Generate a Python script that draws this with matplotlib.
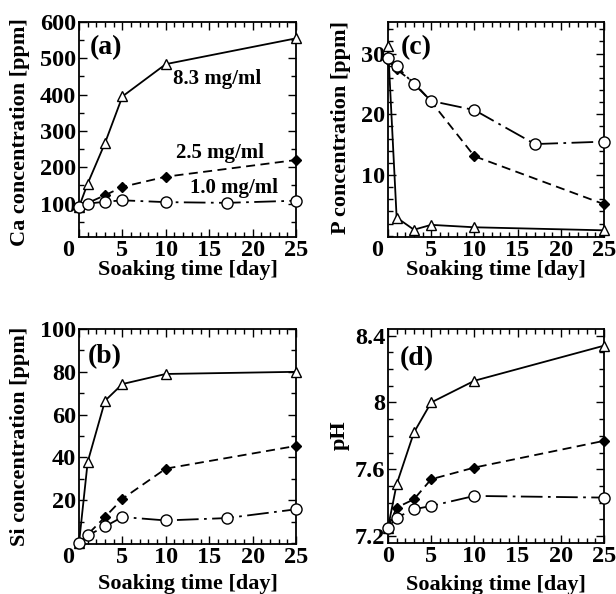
import matplotlib
matplotlib.use("Agg")
import matplotlib.pyplot as plt
import matplotlib.transforms as mtransforms
from matplotlib.ticker import FixedLocator, MultipleLocator

plt.rcParams['font.family'] = ['Liberation Serif', 'DejaVu Serif']
plt.rcParams['font.weight'] = 'bold'

# ---------------- data ----------------
# (a) Ca concentration [ppm]
ca_x_tri = [0, 1, 3, 5, 10, 25]
ca_tri = [91, 155, 267, 395, 484, 555]
ca_x_dia = [0, 3, 5, 10, 25]
ca_dia = [91, 123, 146, 174, 220]
ca_x_cir = [0, 1, 3, 5, 10, 17, 25]
ca_cir = [91, 100, 105, 109, 104, 102, 108]

# (b) Si concentration [ppm]
si_x_tri = [0, 1, 3, 5, 10, 25]
si_tri = [0, 37.9, 66.5, 74.3, 79.0, 80.0]
si_x_dia = [0, 3, 5, 10, 25]
si_dia = [0, 12.2, 20.7, 34.8, 45.4]
si_x_cir = [0, 1, 3, 5, 10, 17, 25]
si_cir = [0, 3.6, 7.8, 12.2, 10.6, 11.7, 15.8]

# (c) P concentration [ppm]
p_x_tri = [0, 1, 3, 5, 10, 25]
p_tri = [31.2, 3.0, 1.0, 1.8, 1.4, 0.9]
p_x_dia = [0, 1, 3, 5, 10, 25]
p_dia = [28.9, 27.4, 25.2, 22.1, 13.1, 5.2]
p_x_cir = [0, 1, 3, 5, 10, 17, 25]
p_cir = [29.3, 27.9, 25.0, 22.2, 20.7, 15.1, 15.5]

# (d) pH
ph_x_tri = [0, 1, 3, 5, 10, 25]
ph_tri = [7.25, 7.51, 7.82, 8.00, 8.13, 8.34]
ph_x_dia = [0, 1, 3, 5, 10, 25]
ph_dia = [7.25, 7.37, 7.42, 7.54, 7.61, 7.77]
ph_x_cir = [0, 1, 3, 5, 10, 25]
ph_cir = [7.25, 7.31, 7.36, 7.38, 7.44, 7.43]

x_ticks = [0, 5, 10, 15, 20, 25]
series_labels = ['8.3 mg/ml', '2.5 mg/ml', '1.0 mg/ml']

# ---------------- figure ----------------
W, H = 616, 594
fig = plt.figure(figsize=(W / 100, H / 100), dpi=100)

def frac(l, t, r, b):
    return [l / W, 1 - b / H, (r - l) / W, (b - t) / H]

ax_a = fig.add_axes(frac(79, 22, 296, 237))
ax_c = fig.add_axes(frac(388, 22, 604, 237))
ax_b = fig.add_axes(frac(79, 329, 296, 544))
ax_d = fig.add_axes(frac(388, 329, 604, 543))

FS = 16
TFS = 17.5
lw = 1.3

def draw(ax, xt, yt, xd, yd, xc, yc):
    ax.plot(xt, yt, '-', color='black', lw=lw, marker='^', ms=6.5,
            mfc='white', mec='black', mew=1.0, zorder=3, clip_on=False)
    ax.plot(xd, yd, color='black', lw=lw, ls=(0, (5, 3)), marker='D', ms=5.5,
            mfc='black', mec='black', zorder=3, clip_on=False)
    ax.plot(xc, yc, color='black', lw=lw, ls=(0, (12, 3, 1.5, 3)), marker='o', ms=8,
            mfc='white', mec='black', mew=1.0, zorder=4, clip_on=False)

def style(ax, ylim, ymaj, ymin, ylabel, xlabel_y, ylabel_x, ylabel_y, tag, tagpos, shift0=True):
    ax.set_xlim(0, 25)
    ax.set_ylim(*ylim)
    ax.xaxis.set_major_locator(FixedLocator(x_ticks))
    ax.xaxis.set_minor_locator(MultipleLocator(1))
    ax.yaxis.set_major_locator(FixedLocator(ymaj))
    ax.yaxis.set_minor_locator(MultipleLocator(ymin))
    ax.tick_params(which='both', direction='in', top=True, right=True,
                   labelsize=TFS, width=1.0)
    ax.tick_params(which='major', length=6, pad=2)
    ax.tick_params(which='minor', length=3.5)
    for s in ax.spines.values():
        s.set_linewidth(1.3)
    ax.set_xlabel('Soaking time [day]', fontsize=FS, fontweight='bold', va='center')
    ax.xaxis.set_label_coords(0.5, xlabel_y)
    ax.set_ylabel(ylabel, fontsize=FS, fontweight='bold', va='center')
    ax.yaxis.set_label_coords(ylabel_x, ylabel_y)
    ax.text(tagpos[0], tagpos[1], tag, transform=ax.transAxes, fontsize=20,
            fontweight='bold', ha='left', va='center')
    if shift0:
        lab = ax.xaxis.get_major_ticks()[0].label1
        lab.set_transform(lab.get_transform() +
                          mtransforms.ScaledTranslation(-11 / 100, 0, fig.dpi_scale_trans))

draw(ax_a, ca_x_tri, ca_tri, ca_x_dia, ca_dia, ca_x_cir, ca_cir)
style(ax_a, (8, 600), [100, 200, 300, 400, 500, 600], 50, 'Ca concentration [ppm]',
      -0.155, -0.272, 0.49, '(a)', (0.05, 0.88))
ax_a.text(10.8, 442, series_labels[0], fontsize=15, fontweight='bold', va='center', ha='left')
ax_a.text(11.2, 238, series_labels[1], fontsize=15, fontweight='bold', va='center', ha='left')
ax_a.text(12.8, 142, series_labels[2], fontsize=15, fontweight='bold', va='center', ha='left')

draw(ax_c, p_x_tri, p_tri, p_x_dia, p_dia, p_x_cir, p_cir)
style(ax_c, (-0.2, 35.2), [10, 20, 30], 2, 'P concentration [ppm]',
      -0.155, -0.218, 0.51, '(c)', (0.06, 0.88))

draw(ax_b, si_x_tri, si_tri, si_x_dia, si_dia, si_x_cir, si_cir)
style(ax_b, (-0.4, 100), [20, 40, 60, 80, 100], 10, 'Si concentration [ppm]',
      -0.188, -0.272, 0.50, '(b)', (0.04, 0.87))

draw(ax_d, ph_x_tri, ph_tri, ph_x_dia, ph_dia, ph_x_cir, ph_cir)
style(ax_d, (7.158, 8.44), [7.2, 7.6, 8.0, 8.4], 0.1, 'pH',
      -0.196, -0.222, 0.505, '(d)', (0.056, 0.86), shift0=False)
ax_d.yaxis.set_major_formatter(plt.FuncFormatter(lambda v, p: f"{v:g}"))

fig.savefig('out.png', dpi=100, facecolor='white')
